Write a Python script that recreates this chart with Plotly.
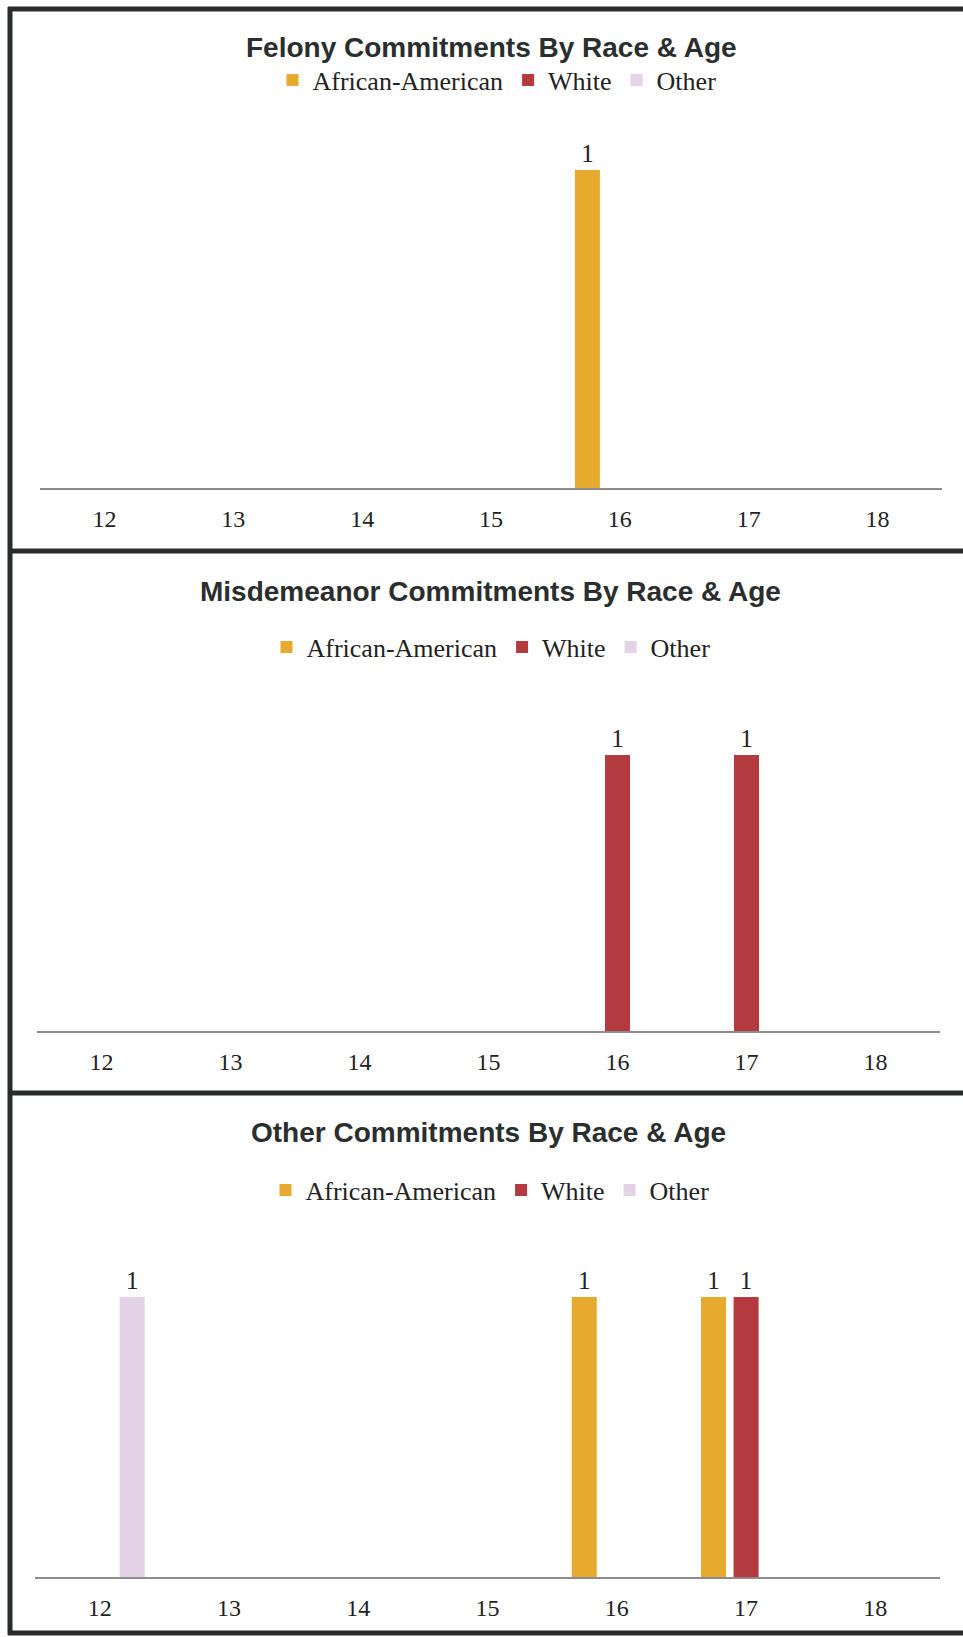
import plotly.graph_objects as go

W, H = 963, 1637

ages = ["12", "13", "14", "15", "16", "17", "18"]
series = ["African-American", "White", "Other"]
colors = ["#E6AA2E", "#B33A3E", "#E4D2E6"]

titles = [
    "Felony Commitments By Race & Age",
    "Misdemeanor Commitments By Race & Age",
    "Other Commitments By Race & Age",
]

felony_aa = [0, 0, 0, 0, 1, 0, 0]
felony_white = [0, 0, 0, 0, 0, 0, 0]
felony_other = [0, 0, 0, 0, 0, 0, 0]

misd_aa = [0, 0, 0, 0, 0, 0, 0]
misd_white = [0, 0, 0, 0, 1, 1, 0]
misd_other = [0, 0, 0, 0, 0, 0, 0]

oth_aa = [0, 0, 0, 0, 1, 1, 0]
oth_white = [0, 0, 0, 0, 0, 1, 0]
oth_other = [1, 0, 0, 0, 0, 0, 0]

panels = [
    [felony_aa, felony_white, felony_other],
    [misd_aa, misd_white, misd_other],
    [oth_aa, oth_white, oth_other],
]


def py(px):
    return 1 - px / H


def pxx(px):
    return px / W


# layout geometry (pixels from top)
baselines = [488, 1031, 1577]
unit_h = [318, 276, 280]
ymax = 1.15
title_y = [47, 591, 1132]
legend_y = [80, 647, 1190]
title_x = [492, 490, 489]
legend_x = [497, 491, 490]
x_domains = [(40, 942), (37, 940), (35, 940)]

fig = go.Figure()
legend_names = ["legend", "legend2", "legend3"]

for p, vals in enumerate(panels):
    xa = "x" if p == 0 else f"x{p+1}"
    ya = "y" if p == 0 else f"y{p+1}"
    for s, name in enumerate(series):
        v = vals[s]
        fig.add_trace(go.Bar(
            x=ages, y=v, name=name,
            marker=dict(color=colors[s], line=dict(width=0)),
            text=[str(t) if t else "" for t in v],
            textposition="outside",
            textfont=dict(family="Liberation Serif", size=25, color="#222"),
            cliponaxis=False,
            xaxis=xa, yaxis=ya,
            legend=legend_names[p],
            showlegend=True,
        ))

layout = dict(
    width=W, height=H,
    margin=dict(l=0, r=0, t=0, b=0),
    paper_bgcolor="white",
    plot_bgcolor="rgba(0,0,0,0)",
    barmode="group",
    bargap=0.245,
    bargroupgap=0.23,
    font=dict(family="Liberation Serif", color="#222"),
    shapes=[],
    annotations=[],
)

for p in range(3):
    sfx = "" if p == 0 else str(p + 1)
    top = baselines[p] - unit_h[p] * ymax
    layout["xaxis" + sfx] = dict(
        type="category",
        domain=[pxx(x_domains[p][0]), pxx(x_domains[p][1])],
        anchor="y" + sfx,
        showline=True, linecolor="#8c8c8c", linewidth=2,
        showgrid=False, zeroline=False, ticks="",
        tickfont=dict(family="Liberation Serif", size=24, color="#222"),
        ticklabelstandoff=8,
        fixedrange=True,
    )
    layout["yaxis" + sfx] = dict(
        domain=[py(baselines[p]), py(top)],
        anchor="x" + sfx,
        range=[0, ymax],
        visible=False,
        showgrid=False, zeroline=False,
    )
    layout[legend_names[p]] = dict(
        orientation="h",
        x=pxx(legend_x[p]), xanchor="center",
        y=py(legend_y[p]), yanchor="middle",
        font=dict(family="Liberation Serif", size=26, color="#222"),
        bgcolor="rgba(0,0,0,0)",
        itemwidth=30,
        tracegroupgap=0,
    )
    layout["annotations"].append(dict(
        text="<b>" + titles[p] + "</b>",
        x=pxx(title_x[p]), y=py(title_y[p]),
        xref="paper", yref="paper",
        xanchor="center", yanchor="middle",
        showarrow=False,
        font=dict(family="Liberation Sans", size=28, color="#2b2e2e"),
    ))

border = "#2a2c2c"
lw = 5
# frame lines
for ypx in [9, 551, 1093, 1633]:
    layout["shapes"].append(dict(
        type="line", xref="paper", yref="paper",
        x0=pxx(8), x1=1.01, y0=py(ypx), y1=py(ypx),
        line=dict(color=border, width=lw),
    ))
layout["shapes"].append(dict(
    type="line", xref="paper", yref="paper",
    x0=pxx(10), x1=pxx(10), y0=py(7), y1=py(1635),
    line=dict(color=border, width=lw),
))

fig.update_layout(**layout)
fig.write_html(
    "out.html",
    config={"displayModeBar": False},
    post_script="document.body.style.margin='0';document.body.style.overflow='hidden';",
)
